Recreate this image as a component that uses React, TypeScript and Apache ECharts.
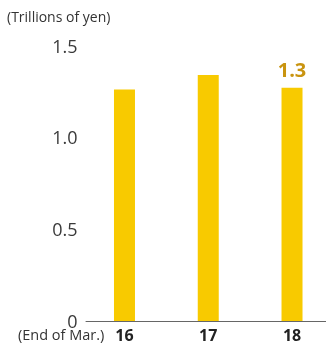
import React, { useEffect, useRef } from "react";
import * as echarts from "echarts";

const categories = ["16", "17", "18"];
const values = [1.26, 1.34, 1.27];
const highlightLabel = "1.3";
const yTicks = [0, 0.5, 1.0, 1.5];
const unitLabel = "(Trillions of yen)";
const periodLabel = "(End of Mar.)";

export default function App() {
  const ref = useRef<HTMLDivElement>(null);
  useEffect(() => {
    if (!ref.current) return;
    const chart = echarts.init(ref.current, null, { renderer: "svg" });
    const font = "'Open Sans', 'Noto Sans', sans-serif";
    chart.setOption({
      animation: false,
      grid: [
        { left: 82.6, width: 251.3, top: 45.5, bottom: 22, outerBoundsMode: "none", containLabel: false },
        { left: 86, right: 0, top: 45.5, bottom: 22, outerBoundsMode: "none", containLabel: false },
      ],
      xAxis: [
        {
          type: "category",
          data: categories,
          gridIndex: 0,
          axisLine: { show: false },
          axisTick: { show: false },
          axisLabel: {
            margin: 6,
            fontFamily: font,
            fontSize: 16,
            lineHeight: 16,
            fontWeight: "bold",
            color: "#222",
          },
        },
        {
          type: "value",
          gridIndex: 1,
          min: 0,
          max: 1,
          axisLine: { show: true, lineStyle: { color: "#666", width: 1 } },
          axisTick: { show: false },
          axisLabel: { show: false },
          splitLine: { show: false },
        },
      ],
      yAxis: [
        {
          type: "value",
          gridIndex: 0,
          min: yTicks[0],
          max: yTicks[yTicks.length - 1],
          interval: 0.5,
          axisLine: { show: false },
          axisTick: { show: false },
          splitLine: { show: false },
          axisLabel: {
            margin: 5,
            fontFamily: font,
            fontSize: 18,
            lineHeight: 14,
            color: "#3a3a3a",
            formatter: (v: number) => (v === 0 ? "0" : v.toFixed(1)),
          },
        },
        {
          type: "value",
          gridIndex: 1,
          show: false,
          min: 0,
          max: 1,
        },
      ],
      series: [
        {
          type: "bar",
          xAxisIndex: 0,
          yAxisIndex: 0,
          data: values.map((v, i) =>
            i === values.length - 1
              ? {
                  value: v,
                  label: {
                    show: true,
                    position: "top",
                    distance: 8,
                    formatter: highlightLabel,
                    fontFamily: font,
                    fontSize: 20,
                    fontWeight: "bold",
                    color: "#c99410",
                  },
                }
              : v
          ),
          barWidth: 21,
          itemStyle: { color: "#f8ca00" },
        },
      ],
      graphic: [
        {
          type: "text",
          left: 7,
          top: 9,
          style: {
            text: unitLabel,
            fontFamily: font,
            fontSize: 14,
            fill: "#333",
          },
        },
        {
          type: "text",
          left: 18,
          top: 327,
          style: {
            text: periodLabel,
            fontFamily: font,
            fontSize: 14.5,
            fill: "#333",
          },
        },
      ],
    });
    return () => chart.dispose();
  }, []);
  return (
    <div
      ref={ref}
      style={{ position: "fixed", left: 0, top: 0, width: 326, height: 343 }}
    />
  );
}
